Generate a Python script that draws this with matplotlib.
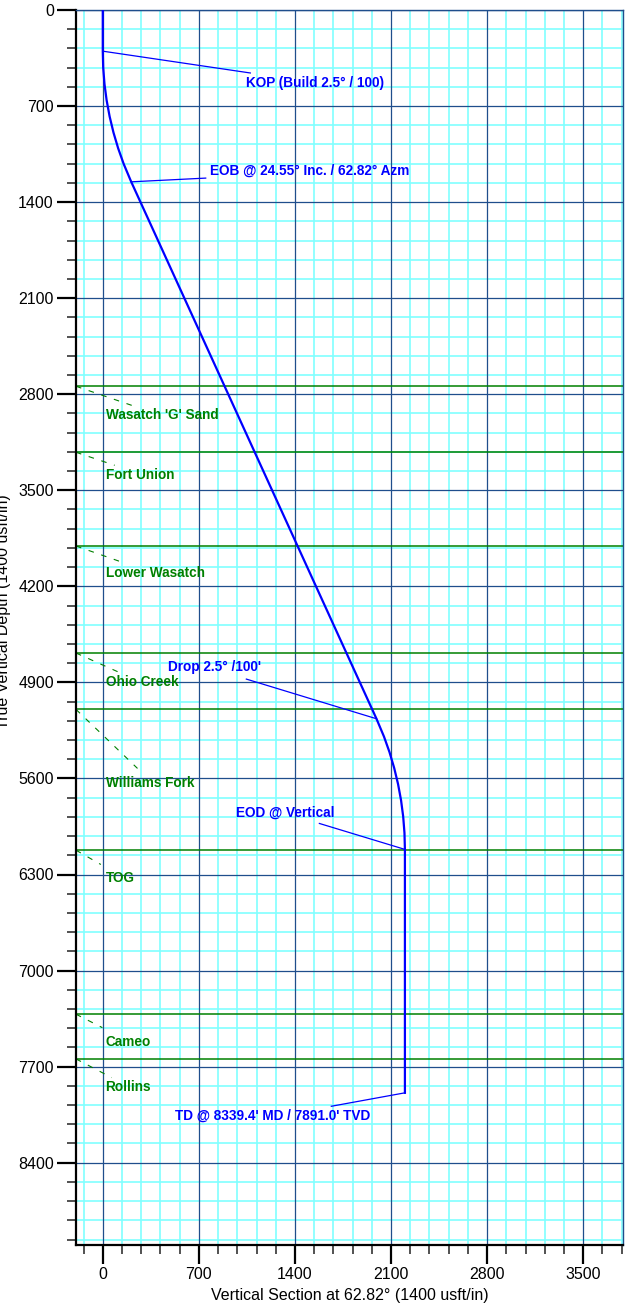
import matplotlib
matplotlib.use('Agg')
import matplotlib.pyplot as plt
from matplotlib.ticker import MultipleLocator

plt.rcParams['font.family'] = ['Liberation Sans', 'DejaVu Sans']

# well path (vertical section vs TVD)
vs = [0, 0, 3.1, 12.6, 28.2, 50.1, 78.1, 112.2, 152.2, 207.2,
      1994.0, 2049.0, 2089.0, 2123.1, 2151.1, 2173.0, 2188.6, 2198.0, 2201.2, 2201.2]
tvd = [0, 300, 420, 540, 658.5, 776.5, 893.2, 1008.2, 1121.3, 1252.1,
       5165.0, 5295.8, 5408.9, 5524.0, 5640.6, 5758.6, 5877.6, 5997.2, 6117.1, 7891.0]

# formation tops
formations = ["Wasatch 'G' Sand", "Fort Union", "Lower Wasatch", "Ohio Creek",
              "Williams Fork", "TOG", "Cameo", "Rollins"]
form_tvd = [2742, 3223, 3906, 4686, 5097, 6123, 7318, 7644]
form_label_y = [2953, 3391, 4103, 4898, 5634, 6324, 7520, 7846]
form_lead_x = [231, 87, 137, 115, 253, -14, -3, 65]
form_lead_y = [2888, 3318, 4023, 4825, 5527, 6227, 7416, 7780]

# well plan annotations
notes = ["KOP (Build 2.5\u00b0 / 100)", "EOB @ 24.55\u00b0 Inc. / 62.82\u00b0 Azm",
         "Drop 2.5\u00b0 /100'", "EOD @ Vertical", "TD @ 8339.4' MD / 7891.0' TVD"]
note_pt_x = [0, 207.2, 1994.0, 2201.2, 2201.2]
note_pt_y = [300, 1252.1, 5165.0, 6117.1, 7891.0]
note_end_x = [1075, 750, 1046, 1578, 1665]
note_end_y = [459, 1225, 4876, 5928, 7989]
note_txt_x = [1046, 779, 476, 974, 527]
note_txt_y = [532, 1174, 4788, 5850, 8057]

xmin, xmax = -195, 3790
ymin, ymax = 0, 9000

fig = plt.figure(figsize=(6.32, 13.1), dpi=100)
ax = fig.add_axes([76 / 632, 65 / 1310, 547 / 632, 1235 / 1310])

# grid: cyan minor every 140, dark blue major every 700
for v in range(-140, xmax, 140):
    if v % 700 != 0:
        ax.axvline(v, color='#80ffff', lw=1.2, zorder=0)
for v in range(140, ymax, 140):
    if v % 700 != 0:
        ax.axhline(v, color='#80ffff', lw=1.2, zorder=0)
for v in range(0, xmax, 700):
    ax.axvline(v, color='#1f4e8c', lw=0.9, zorder=1)
for v in range(0, ymax, 700):
    ax.axhline(v, color='#1f4e8c', lw=0.9, zorder=1)

# formations
for name, t, ly, ex, ey in zip(formations, form_tvd, form_label_y, form_lead_x, form_lead_y):
    ax.axhline(t, color='#008000', lw=1.1, zorder=2)
    ax.plot([xmin, ex], [t, ey], color='#008000', lw=0.8, ls=(0, (5, 7)), zorder=2)
    ax.text(20, ly, name, color='#008000', fontsize=9.8, fontweight='bold',
            ha='left', va='center', zorder=4)

# well path
ax.plot(vs, tvd, color='#0000ff', lw=1.6, zorder=3)

for txt, px, py, ex, ey, tx, ty in zip(notes, note_pt_x, note_pt_y, note_end_x,
                                       note_end_y, note_txt_x, note_txt_y):
    ax.plot([px, ex], [py, ey], color='#0000ff', lw=0.9, zorder=3)
    ax.text(tx, ty, txt, color='#0000ff', fontsize=9.8, fontweight='bold',
            ha='left', va='center', zorder=4)

ax.set_xlim(xmin, xmax)
ax.set_ylim(ymax, ymin)

ax.xaxis.set_minor_locator(MultipleLocator(140))
ax.yaxis.set_minor_locator(MultipleLocator(140))
ax.set_yticks([0, 700, 1400, 2100, 2800, 3500, 4200, 4900, 5600, 6300, 7000, 7700, 8400])
ax.set_xticks([0, 700, 1400, 2100, 2800, 3500])

ax.tick_params(which='major', length=13.5, width=1.6, labelsize=11.5, pad=2.5, color='black')
ax.tick_params(which='minor', length=6.5, width=1.2, color='#333333')

for side in ['left', 'bottom']:
    ax.spines[side].set_linewidth(1.6)
    ax.spines[side].set_color('black')
for side in ['top', 'right']:
    ax.spines[side].set_linewidth(1.0)
    ax.spines[side].set_color('#1f4e8c')

ax.set_xlabel("Vertical Section at 62.82\u00b0 (1400 usft/in)", fontsize=11.5, labelpad=4)
# the reference shows this label clipped at the left edge
fig.text(4 / 632, 1 - 612 / 1310, "True Vertical Depth (1400 usft/in)", rotation=90,
         fontsize=11.5, ha='center', va='center')

fig.savefig('out.png', dpi=100)
